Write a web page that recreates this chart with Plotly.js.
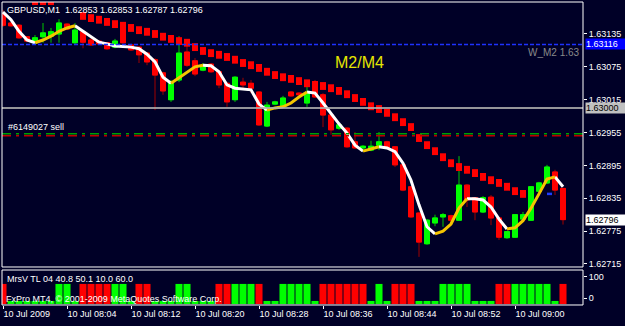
<!DOCTYPE html>
<html><head><meta charset="utf-8">
<script src="https://cdn.plot.ly/plotly-3.0.1.min.js"></script>
<style>html,body{margin:0;padding:0;background:#000027;}#chart{width:625px;height:326px;}</style>
</head><body><div id="chart"></div>
<script>
const symbol = 'GBPUSD', timeframe = 'M1';
const times = ['07:56','07:57','07:58','07:59',
 '08:00','08:01','08:02','08:03','08:04','08:05','08:06','08:07','08:08','08:09',
 '08:10','08:11','08:12','08:13','08:14','08:15','08:16','08:17','08:18','08:19',
 '08:20','08:21','08:22','08:23','08:24','08:25','08:26','08:27','08:28','08:29',
 '08:30','08:31','08:32','08:33','08:34','08:35','08:36','08:37','08:38','08:39',
 '08:40','08:41','08:42','08:43','08:44','08:45','08:46','08:47','08:48','08:49',
 '08:50','08:51','08:52','08:53','08:54','08:55','08:56','08:57','08:58','08:59',
 '09:00','09:01','09:02','09:03','09:04','09:05','09:06'];
const openP = [1.63172,1.63155,1.63151,1.63130,1.63119,1.63130,1.63131,1.63135,1.63153,1.63119,
 1.63139,1.63124,1.63122,1.63119,1.63111,1.63146,1.63115,1.63111,1.63100,1.63088,
 1.63064,1.63015,1.63051,1.63102,1.63086,1.63069,1.63080,1.63066,1.63045,1.63015,
 1.63047,1.63045,1.63029,1.62967,1.63007,1.63004,1.63029,1.63027,1.63009,1.63047,
 1.63024,1.62987,1.62963,1.62963,1.62938,1.62927,1.62923,1.62932,1.62938,1.62929,
 1.62896,1.62856,1.62808,1.62752,1.62790,1.62801,1.62803,1.62795,1.62859,1.62836,
 1.62810,1.62837,1.62799,1.62763,1.62764,1.62797,1.62795,1.62848,1.62863,1.62883,1.62853];
const highP = [1.63179,1.63157,1.63153,1.63131,1.63133,1.63155,1.63146,1.63162,1.63155,1.63155,
 1.63142,1.63128,1.63124,1.63120,1.63126,1.63148,1.63117,1.63113,1.63102,1.63091,
 1.63066,1.63051,1.63131,1.63115,1.63091,1.63082,1.63082,1.63067,1.63047,1.63058,
 1.63055,1.63051,1.63031,1.63011,1.63013,1.63022,1.63031,1.63029,1.63045,1.63051,
 1.63027,1.62989,1.62974,1.62965,1.62956,1.62932,1.62940,1.62956,1.62940,1.62930,
 1.62898,1.62857,1.62810,1.62797,1.62805,1.62808,1.62805,1.62912,1.62861,1.62837,
 1.62839,1.62841,1.62801,1.62775,1.62806,1.62810,1.62857,1.62865,1.62896,1.62887,1.62853];
const lowP = [1.63148,1.63148,1.63126,1.63120,1.63117,1.63119,1.63119,1.63119,1.63142,1.63115,
 1.63109,1.63113,1.63115,1.63106,1.63109,1.63117,1.63104,1.63082,1.63078,1.62996,
 1.63024,1.63011,1.63047,1.63075,1.63058,1.63067,1.63064,1.63036,1.63002,1.63011,
 1.63033,1.63027,1.62967,1.62965,1.63005,1.63002,1.63020,1.63022,1.63002,1.63018,
 1.62965,1.62951,1.62960,1.62927,1.62925,1.62925,1.62921,1.62923,1.62925,1.62892,
 1.62848,1.62799,1.62728,1.62750,1.62784,1.62783,1.62792,1.62794,1.62819,1.62795,
 1.62808,1.62786,1.62759,1.62761,1.62763,1.62795,1.62794,1.62847,1.62861,1.62841,1.62787];
const closeP = [1.63151,1.63150,1.63128,1.63122,1.63128,1.63137,1.63139,1.63155,1.63144,1.63142,
 1.63120,1.63115,1.63117,1.63108,1.63122,1.63119,1.63106,1.63097,1.63084,1.63060,
 1.63031,1.63047,1.63100,1.63078,1.63062,1.63078,1.63066,1.63042,1.63011,1.63056,
 1.63042,1.63036,1.62969,1.63005,1.63011,1.63018,1.63022,1.63024,1.63027,1.63020,
 1.62987,1.62960,1.62969,1.62929,1.62927,1.62930,1.62930,1.62938,1.62927,1.62896,
 1.62850,1.62801,1.62755,1.62795,1.62799,1.62805,1.62795,1.62859,1.62832,1.62810,
 1.62836,1.62799,1.62764,1.62774,1.62805,1.62805,1.62856,1.62863,1.62892,1.62850,1.62796];
// M2/M4 dotted line (red squares)
const redDots = [null,null,null,null,1.63195,1.63195,1.63195,null,null,null,
 1.63168,1.63164,1.63161,1.63157,1.63153,1.63150,1.63146,1.63142,1.63139,1.63135,
 1.63130,1.63126,1.63122,1.63119,1.63111,1.63104,1.63100,1.63097,1.63093,1.63088,
 1.63082,1.63078,1.63073,1.63066,1.63060,1.63056,1.63053,1.63049,1.63045,1.63042,
 1.63040,1.63036,1.63031,1.63025,1.63018,1.63011,1.63003,1.62998,1.62991,1.62983,
 1.62974,1.62965,1.62945,1.62932,1.62921,1.62910,1.62899,1.62892,1.62887,1.62881,
 1.62874,1.62868,1.62863,1.62856,1.62848,1.62843,null,null,null,null,null];
// coloured moving average
const ma = [1.63175,1.63161,1.63140,1.63124,1.63119,1.63124,1.63131,1.63140,1.63146,1.63150,
 1.63140,1.63130,1.63120,1.63117,1.63113,1.63112,1.63111,1.63108,1.63098,1.63084,
 1.63056,1.63045,1.63055,1.63066,1.63075,1.63078,1.63077,1.63066,1.63042,1.63036,
 1.63035,1.63033,1.63007,1.62996,1.63000,1.63002,1.63009,1.63020,1.63029,1.63027,
 1.63009,1.62989,1.62971,1.62954,1.62932,1.62921,1.62925,1.62929,1.62927,1.62920,
 1.62899,1.62868,1.62823,1.62783,1.62770,1.62775,1.62788,1.62817,1.62834,1.62834,
 1.62832,1.62819,1.62797,1.62779,1.62781,1.62794,1.62817,1.62843,1.62870,1.62874,1.62856];
const maTrend = 'DDDDDUUUUUDDDDDDDDDDDDUUUUDDDDDDDDUUUUUDDDDDDDUUDDDDDDDUUUUDDDDDUUUUUUD'.split('');
// MrsV histogram
const mrsvRed = [67,null,null,null,null,null,null,null,null,null,
 67,67,67,67,null,null,null,67,67,null,
 null,null,null,null,null,null,null,67,67,null,
 null,null,67,null,null,null,null,null,null,null,
 67,67,67,67,67,67,null,null,null,67,
 67,67,null,null,null,null,null,null,null,null,
 null,null,67,67,null,null,null,null,null,null,67];
const mrsvGreen = [null,-14,-14,-14,-14,-14,-14,67,67,-14,
 null,null,null,null,67,67,-14,null,null,-14,
 -14,-14,67,67,-14,-14,-14,null,null,67,
 67,67,null,-14,-14,67,67,67,67,-14,
 null,null,null,null,null,null,-14,67,-14,null,
 null,null,-14,-14,-14,67,67,67,67,-14,
 -14,-14,null,null,67,67,67,67,67,-14,null];
const histBase = -29;
const priceTicks = [1.62715,1.62775,1.62835,1.62895,1.62955,1.63015,1.63075,1.63135];
const timeTickCats = ['07:56','08:04','08:12','08:20','08:28','08:36','08:44','08:52','09:00'];
const timeTickLabels = ['10 Jul 2009','10 Jul 08:04','10 Jul 08:12','10 Jul 08:20','10 Jul 08:28','10 Jul 08:36','10 Jul 08:44','10 Jul 08:52','10 Jul 09:00'];
const levelW = 1.63116, levelWLabel = 'W_M2 1.63';
const levelRound = 1.63000;
const orderPrice = 1.62951, orderLabel = '#6149027 sell';
const sigX = ['09:04','09:05'], sigY = [1.62843,1.62843];

const F = 'Liberation Sans, Arial, sans-serif';
const bg = '#000027';

const bodyHigh = openP.map((o,i)=>Math.max(o,closeP[i]));
const bodyLow = openP.map((o,i)=>Math.min(o,closeP[i]));
const maWhite = ma.map((v,i)=> (maTrend[i]==='D' || maTrend[i+1]==='D') ? v : null);
const maYellow = ma.map((v,i)=> (maTrend[i]==='U' || maTrend[i+1]==='U') ? v : null);

const traces = [
 {type:'candlestick', x:times, open:openP, high:highP, low:lowP, close:closeP,
  increasing:{line:{color:'#00c800',width:1}, fillcolor:'#00c800'},
  decreasing:{line:{color:'#a00000',width:1}, fillcolor:'#a00000'},
  whiskerwidth:0, hoverinfo:'skip', xaxis:'x', yaxis:'y'},
 {type:'candlestick', x:times, open:openP, high:bodyHigh, low:bodyLow, close:closeP,
  increasing:{line:{color:'#00ff00',width:1}, fillcolor:'#00ff00'},
  decreasing:{line:{color:'#ff0000',width:1}, fillcolor:'#ff0000'},
  whiskerwidth:0, hoverinfo:'skip', xaxis:'x', yaxis:'y'},
 {type:'scatter', mode:'markers', x:times, y:redDots,
  marker:{symbol:'line-ns', size:5.6, color:'#ff0000', line:{color:'#ff0000', width:6}},
  hoverinfo:'skip', xaxis:'x', yaxis:'y'},
 {type:'scatter', mode:'lines', x:times, y:maWhite, line:{color:'#ffffff', width:3},
  hoverinfo:'skip', xaxis:'x', yaxis:'y'},
 {type:'scatter', mode:'lines', x:times, y:maYellow, line:{color:'#f5c400', width:3},
  hoverinfo:'skip', xaxis:'x', yaxis:'y'},
 {type:'scatter', mode:'lines', x:sigX, y:sigY, line:{color:'#1e3cff', width:2.5, dash:'5px,3px'},
  hoverinfo:'skip', xaxis:'x', yaxis:'y'},
 {type:'bar', x:times, y:mrsvRed.map(v=>v===null?null:v-histBase), base:histBase,
  marker:{color:'#ff0000', line:{width:0}}, hoverinfo:'skip', xaxis:'x', yaxis:'y2'},
 {type:'bar', x:times, y:mrsvGreen.map(v=>v===null?null:v-histBase), base:histBase,
  marker:{color:'#00ff00', line:{width:0}}, hoverinfo:'skip', xaxis:'x', yaxis:'y2'}
];

const mainDom = [0.1283, 1], indDom = [0.0033, 0.1184];
const tf = {family:F, size:9, color:'#ffffff'};

const layout = {
 width:625, height:326, margin:{l:2, r:42, t:2, b:20},
 paper_bgcolor:bg, plot_bgcolor:bg, showlegend:false,
 boxgap:0.375, boxgroupgap:0, bargap:0.12, barmode:'overlay',
 xaxis:{type:'category', range:[-0.125, 72.5], anchor:'y2', showgrid:false, zeroline:false, showline:false,
  ticks:'outside', ticklen:3, tickcolor:'#ffffff', tickvals:timeTickCats, ticktext:timeTickLabels,
  ticklabelposition:'outside right', tickfont:tf, rangeslider:{visible:false}, fixedrange:true},
 yaxis:{domain:mainDom, range:[1.627095, 1.631934], side:'right', anchor:'x', showgrid:false, zeroline:false,
  showline:false, ticks:'outside', ticklen:3, tickcolor:'#ffffff', tickvals:priceTicks,
  ticktext:priceTicks.map(v=>v.toFixed(5)), tickfont:tf, fixedrange:true},
 yaxis2:{domain:indDom, range:[-33.3, 133.3], side:'right', anchor:'x', showgrid:false, zeroline:false,
  showline:false, ticks:'outside', ticklen:3, tickcolor:'#ffffff', tickvals:[0,100], ticktext:['0','100'],
  tickfont:tf, fixedrange:true},
 shapes:[
  {type:'line', xref:'paper', x0:0, x1:1, yref:'y', y0:levelRound, y1:levelRound, layer:'above',
   line:{color:'rgba(175,175,175,0.85)', width:2}},
  {type:'line', xref:'paper', x0:0, x1:1, yref:'y', y0:levelW, y1:levelW, layer:'above',
   line:{color:'#1e32ff', width:1.5, dash:'4px,2px'}},
  {type:'line', xref:'paper', x0:0, x1:1, yref:'y', ysizemode:'pixel', yanchor:orderPrice, y0:1, y1:1, layer:'above',
   line:{color:'#00a000', width:1.5, dash:'9px,5px,3px,5px'}},
  {type:'line', xref:'paper', x0:0, x1:1, yref:'y', ysizemode:'pixel', yanchor:orderPrice, y0:-1, y1:-1, layer:'above',
   line:{color:'#c00000', width:1.5, dash:'9px,5px,3px,5px'}},
  {type:'rect', xref:'paper', yref:'paper', x0:0, x1:1, y0:mainDom[0], y1:mainDom[1], layer:'above',
   line:{color:'#ffffff', width:1}},
  {type:'rect', xref:'paper', yref:'paper', x0:0, x1:1, y0:indDom[0], y1:indDom[1], layer:'above',
   line:{color:'#ffffff', width:1}}
 ],
 annotations:[
  {xref:'paper', x:0, xanchor:'left', xshift:3, yref:'paper', y:1, yanchor:'top', yshift:-1, showarrow:false,
   text: symbol + ',' + timeframe + '\u00a0\u00a0' + [openP[70],highP[70],lowP[70],closeP[70]].map(v=>v.toFixed(5)).join(' '),
   font:{family:F, size:9, color:'#ffffff'}},
  {xref:'paper', x:1, xanchor:'left', xshift:2, yref:'y', y:levelW, yanchor:'middle', showarrow:false,
   text:levelW.toFixed(5), bgcolor:'#0000ff', width:40, height:10, align:'left', borderpad:0,
   font:{family:F, size:9, color:'#ffffff'}},
  {xref:'paper', x:1, xanchor:'left', xshift:2, yref:'y', y:levelRound, yanchor:'middle', showarrow:false,
   text:levelRound.toFixed(5), bgcolor:'#c0c0c0', width:40, height:10, align:'left', borderpad:0,
   font:{family:F, size:9, color:'#000000'}},
  {xref:'paper', x:1, xanchor:'left', xshift:2, yref:'y', y:closeP[70], yanchor:'middle', showarrow:false,
   text:closeP[70].toFixed(5), bgcolor:'#ffffff', width:40, height:10, align:'left', borderpad:0,
   font:{family:F, size:9, color:'#000000'}},
  {xref:'paper', x:1, xanchor:'right', xshift:-1, yref:'y', y:levelW, yanchor:'top', yshift:-1, showarrow:false,
   text:levelWLabel, font:{family:F, size:10, color:'#8a8a8a'}},
  {xref:'paper', x:0, xanchor:'left', xshift:4, yref:'y', y:orderPrice, yanchor:'bottom', yshift:1, showarrow:false,
   text:orderLabel, font:{family:F, size:9, color:'#ffffff'}},
  {xref:'paper', x:0.616, xanchor:'center', yref:'paper', y:0.8026, yanchor:'middle', showarrow:false,
   text:'M2/M4', font:{family:F, size:16, color:'#e6e600'}},
  {xref:'paper', x:0, xanchor:'left', xshift:3, yref:'paper', y:0.0872, yanchor:'middle', showarrow:false,
   text:'MrsV TL 04 40.8 50.1 10.0 60.0', font:{family:F, size:9, color:'#ffffff'}},
  {xref:'paper', x:0, xanchor:'left', xshift:2, yref:'paper', y:0.0214, yanchor:'middle', showarrow:false,
   text:'FxPro MT4, © 2001-2009 MetaQuotes Software Corp.', font:{family:F, size:9, color:'#ffffff'}}
 ]
};

Plotly.newPlot('chart', traces, layout, {staticPlot:true, displayModeBar:false});
</script>
</body></html>
